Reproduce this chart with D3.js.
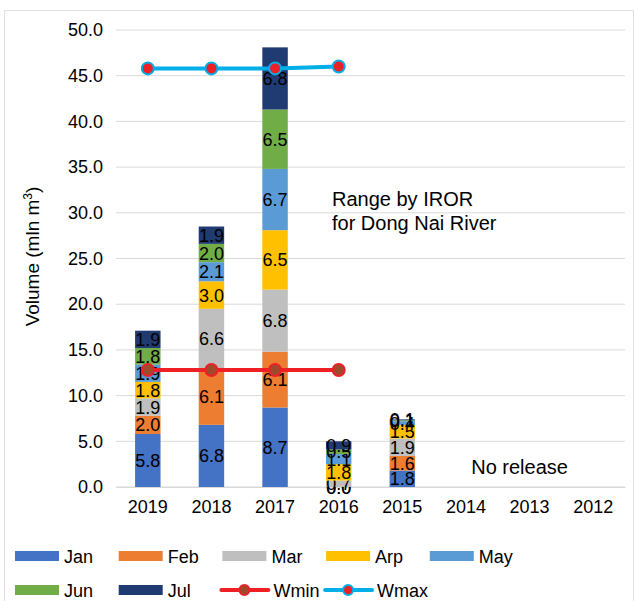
<!DOCTYPE html>
<html>
<head>
<meta charset="utf-8">
<script src="https://cdn.jsdelivr.net/npm/d3@7"></script>
<style>
  body { margin: 0; background: #fff; }
  text { font-family: "Liberation Sans", Arial, sans-serif; }
</style>
</head>
<body>
<div id="chart"></div>
<script>
// years on the x axis
var years = ["2019", "2018", "2017", "2016", "2015", "2014", "2013", "2012"];
var months = ["Jan", "Feb", "Mar", "Arp", "May", "Jun", "Jul"];
var monthColors = ["#4472c4", "#ed7d31", "#bfbfbf", "#ffc000", "#5b9bd5", "#70ad47", "#203a72"];

// monthly released volume per year (mln m3)
var jan = [5.8, 6.8, 8.7, 0.0, 1.8, null, null, null];
var feb = [2.0, 6.1, 6.1, 0.0, 1.6, null, null, null];
var mar = [1.9, 6.6, 6.8, 0.7, 1.9, null, null, null];
var arp = [1.8, 3.0, 6.5, 1.8, 1.5, null, null, null];
var may = [1.9, 2.1, 6.7, 1.1, 0.4, null, null, null];
var jun = [1.8, 2.0, 6.5, 0.5, 0.1, null, null, null];
var jul = [1.9, 1.9, 6.8, 0.9, 0.1, null, null, null];

var wminYears = ["2019", "2018", "2017", "2016"];
var wmin = [12.8, 12.8, 12.8, 12.8];
var wmax = [45.8, 45.8, 45.8, 46.0];

var yTicks = [0, 5, 10, 15, 20, 25, 30, 35, 40, 45, 50];

var W = 635, H = 601;
var margin = { left: 116, right: 10, top: 30, bottom: 114 };
var w = W - margin.left - margin.right;
var h = H - margin.top - margin.bottom;
var fs = 18;

var svg = d3.select("#chart").append("svg")
    .attr("width", W)
    .attr("height", H);

// chart border
svg.append("rect")
    .attr("x", 4.5).attr("y", 10.5)
    .attr("width", W - 6).attr("height", H - 8)
    .attr("fill", "none")
    .attr("stroke", "#e0e0e0");

var g = svg.append("g")
    .attr("transform", "translate(" + margin.left + "," + margin.top + ")");

var xScale = d3.scaleBand().domain(years).range([0, w]).paddingInner(0.6).paddingOuter(0.3);
var yScale = d3.scaleLinear().domain([0, 50]).range([h, 0]);

// gridlines
g.selectAll(".grid")
    .data(yTicks)
    .enter().append("line")
    .attr("class", "grid")
    .attr("x1", 0).attr("x2", w)
    .attr("y1", function(d) { return yScale(d); })
    .attr("y2", function(d) { return yScale(d); })
    .attr("stroke", "#d9d9d9")
    .attr("stroke-width", 1);

// y axis
var yAxis = d3.axisLeft(yScale).tickValues(yTicks).tickSize(0).tickPadding(13)
    .tickFormat(function(d) { return d3.format(".1f")(d); });
var yAxisGroup = g.append("g").attr("class", "y axis").call(yAxis);
yAxisGroup.select(".domain").remove();
yAxisGroup.selectAll("text").attr("font-size", fs).attr("fill", "#000")
    .style("font-family", "Liberation Sans, Arial, sans-serif");

// x axis
var xAxis = d3.axisBottom(xScale).tickSize(0).tickPadding(13);
var xAxisGroup = g.append("g").attr("class", "x axis")
    .attr("transform", "translate(0," + h + ")").call(xAxis);
xAxisGroup.select(".domain").attr("stroke", "#d9d9d9");
xAxisGroup.selectAll("text").attr("font-size", fs).attr("fill", "#000")
    .style("font-family", "Liberation Sans, Arial, sans-serif");

// y axis label
g.append("text")
    .attr("transform", "rotate(-90)")
    .attr("x", -h / 2 + 2)
    .attr("y", -77)
    .attr("text-anchor", "middle")
    .attr("font-size", 19)
    .html('Volume (mln m<tspan dy="-7" font-size="12">3</tspan><tspan dy="7">)</tspan>');

// stacked bars
var series = [jan, feb, mar, arp, may, jun, jul];
var rows = years.map(function(y, i) {
    var r = { year: y };
    months.forEach(function(m, k) { r[m] = series[k][i]; });
    return r;
}).filter(function(r) { return r.Jan !== null; });

var stack = d3.stack().keys(months);
var layers = stack(rows);

var layerG = g.selectAll(".layer")
    .data(layers)
    .enter().append("g")
    .attr("class", "layer")
    .attr("fill", function(d, i) { return monthColors[i]; });

layerG.selectAll("rect")
    .data(function(d) { return d; })
    .enter().append("rect")
    .attr("x", function(d) { return xScale(d.data.year); })
    .attr("width", xScale.bandwidth())
    .attr("y", function(d) { return yScale(d[1]); })
    .attr("height", function(d) { return yScale(d[0]) - yScale(d[1]); });

layerG.selectAll("text")
    .data(function(d) {
        return d.map(function(p) { p.key = d.key; return p; });
    })
    .enter().append("text")
    .attr("x", function(d) { return xScale(d.data.year) + xScale.bandwidth() / 2; })
    .attr("y", function(d) { return (yScale(d[0]) + yScale(d[1])) / 2 + 6.5; })
    .attr("text-anchor", "middle")
    .attr("font-size", fs)
    .attr("fill", "#000")
    .text(function(d) { return d3.format(".1f")(d.data[d.key]); });

// Wmin / Wmax lines
var lineMin = d3.line()
    .x(function(d, i) { return xScale(wminYears[i]) + xScale.bandwidth() / 2; })
    .y(function(d) { return yScale(d); });

g.append("path").datum(wmin)
    .attr("d", lineMin)
    .attr("fill", "none").attr("stroke", "#ee2026").attr("stroke-width", 4);
g.selectAll(".minDot").data(wmin).enter().append("circle")
    .attr("class", "minDot")
    .attr("cx", function(d, i) { return xScale(wminYears[i]) + xScale.bandwidth() / 2; })
    .attr("cy", function(d) { return yScale(d); })
    .attr("r", 6)
    .attr("fill", "#9e4a2c").attr("stroke", "#ee2026").attr("stroke-width", 2);

g.append("path").datum(wmax)
    .attr("d", lineMin)
    .attr("fill", "none").attr("stroke", "#00aee8").attr("stroke-width", 4);
g.selectAll(".maxDot").data(wmax).enter().append("circle")
    .attr("class", "maxDot")
    .attr("cx", function(d, i) { return xScale(wminYears[i]) + xScale.bandwidth() / 2; })
    .attr("cy", function(d) { return yScale(d); })
    .attr("r", 6)
    .attr("fill", "#ee2026").attr("stroke", "#00aee8").attr("stroke-width", 2);

// annotations
var note = g.append("text")
    .attr("x", xScale("2016") + 6)
    .attr("y", yScale(30.7))
    .attr("font-size", 20);
note.append("tspan").text("Range by IROR");
note.append("tspan").attr("x", xScale("2016") + 6).attr("dy", 24).text("for Dong Nai River");

g.append("text")
    .attr("x", xScale("2013") + xScale.bandwidth() / 2 - 10)
    .attr("y", yScale(1.4))
    .attr("text-anchor", "middle")
    .attr("font-size", 20)
    .text("No release");

// legend
var legendItems = months.map(function(m, i) { return { name: m, color: monthColors[i], type: "bar" }; });
legendItems.push({ name: "Wmin", color: "#ee2026", dot: "#9e4a2c", type: "line" });
legendItems.push({ name: "Wmax", color: "#00aee8", dot: "#ee2026", type: "line" });

var leg = svg.selectAll(".legend")
    .data(legendItems)
    .enter().append("g")
    .attr("class", "legend")
    .attr("transform", function(d, i) {
        return "translate(" + (15 + (i % 5) * 103.7) + "," + (556 + Math.floor(i / 5) * 34) + ")";
    });

leg.filter(function(d) { return d.type === "bar"; }).append("rect")
    .attr("x", 0).attr("y", -5).attr("width", 44).attr("height", 10)
    .attr("fill", function(d) { return d.color; });

leg.filter(function(d) { return d.type === "line"; }).append("line")
    .attr("x1", -1).attr("x2", 46)
    .attr("y1", 0).attr("y2", 0)
    .attr("stroke", function(d) { return d.color; })
    .attr("stroke-width", 4)
    .attr("stroke-linecap", "round");
leg.filter(function(d) { return d.type === "line"; }).append("circle")
    .attr("cx", 22).attr("cy", 0).attr("r", 5)
    .attr("fill", function(d) { return d.dot; })
    .attr("stroke", function(d) { return d.color; })
    .attr("stroke-width", 2);

leg.append("text")
    .attr("x", function(d) { return d.type === "bar" ? 49 : 51; })
    .attr("y", 6.5)
    .attr("font-size", fs)
    .text(function(d) { return d.name; });
</script>
</body>
</html>
